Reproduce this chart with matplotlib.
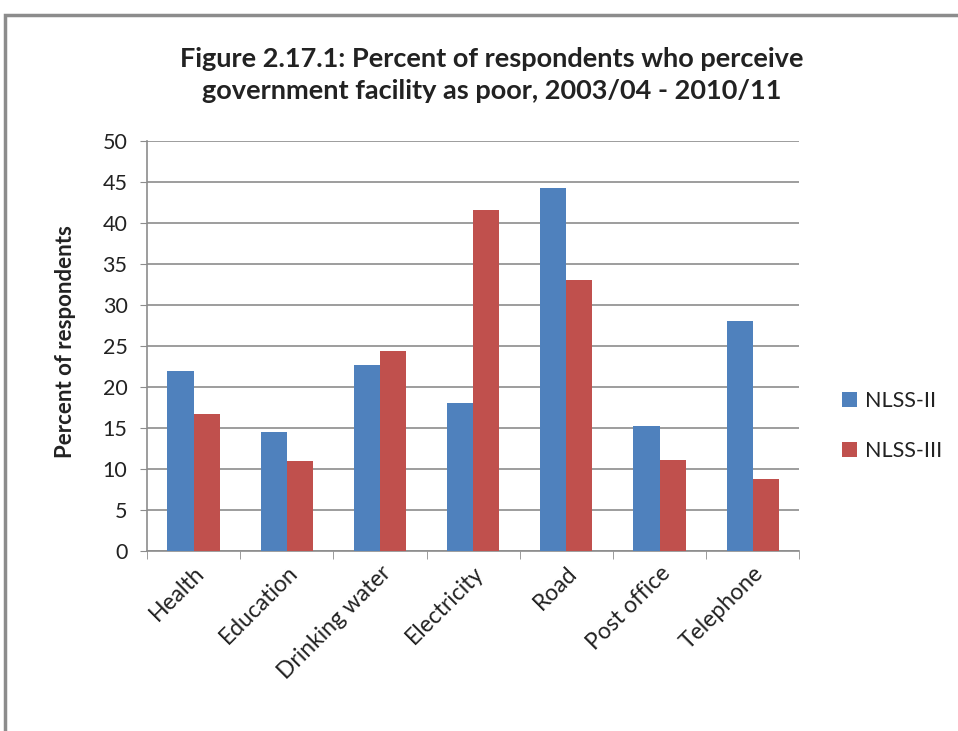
import matplotlib.pyplot as plt
import numpy as np
from matplotlib.patches import Rectangle

plt.rcParams['font.family'] = ['Lato', 'DejaVu Sans']

categories = ["Health", "Education", "Drinking water", "Electricity", "Road", "Post office", "Telephone"]
nlss_2 = [21.9, 14.5, 22.7, 18.0, 44.3, 15.3, 28.0]
nlss_3 = [16.7, 11.0, 24.4, 41.6, 33.1, 11.1, 8.8]
series_names = ["NLSS-II", "NLSS-III"]
colors = ["#4f81bd", "#c0504d"]

fig = plt.figure(figsize=(9.58, 7.31), dpi=100)
ax = fig.add_axes([0.1534, 0.2462, 0.681, 0.561])

# outer frame like the spreadsheet chart area
fig.patches.append(Rectangle((5 / 958, -0.01), 1.0, 1 - 15 / 731 + 0.01, transform=fig.transFigure,
                             fill=False, edgecolor="#8c8c8c", linewidth=2.5))

x = np.arange(len(categories))
w = 0.28
ax.bar(x - w / 2, nlss_2, w, color=colors[0], label=series_names[0], zorder=3)
ax.bar(x + w / 2, nlss_3, w, color=colors[1], label=series_names[1], zorder=3)

ax.set_xlim(-0.5, len(categories) - 0.5)
ax.set_ylim(0, 50)
ax.set_yticks(np.arange(0, 51, 5))
ax.yaxis.grid(True, color="#8c8c8c", linewidth=1.2, zorder=0)
ax.tick_params(axis="y", labelsize=15.5, length=5, color="#8c8c8c", pad=9, labelcolor="#222222")

ax.set_xticks(x)
ax.set_xticklabels(categories, rotation=45, ha="right", rotation_mode="anchor", fontsize=16.5, color="#222222")
ax.tick_params(axis="x", length=0, pad=8)
ax.set_xticks(np.arange(-0.5, len(categories)), minor=True)
ax.tick_params(axis="x", which="minor", length=6, color="#8c8c8c")

for s in ["top", "right"]:
    ax.spines[s].set_visible(False)
for s in ["left", "bottom"]:
    ax.spines[s].set_color("#8c8c8c")
    ax.spines[s].set_linewidth(1.2)

ax.set_ylabel("Percent of respondents", fontsize=16, fontweight="bold", color="#222222")
ax.yaxis.set_label_coords(-0.108, 0.51)

fig.text(0.513, 0.898, "Figure 2.17.1: Percent of respondents who perceive\ngovernment facility as poor, 2003/04 - 2010/11",
         ha="center", va="center", fontsize=19.5, fontweight="bold", linespacing=1.4, color="#222222")

leg = ax.legend(loc="center left", bbox_to_anchor=(1.035, 0.305), frameon=False, fontsize=15.5,
                handlelength=0.7, handleheight=0.7, handletextpad=0.4, labelspacing=1.4)
for t in leg.get_texts():
    t.set_color("#222222")

fig.savefig("out.png", dpi=100)
